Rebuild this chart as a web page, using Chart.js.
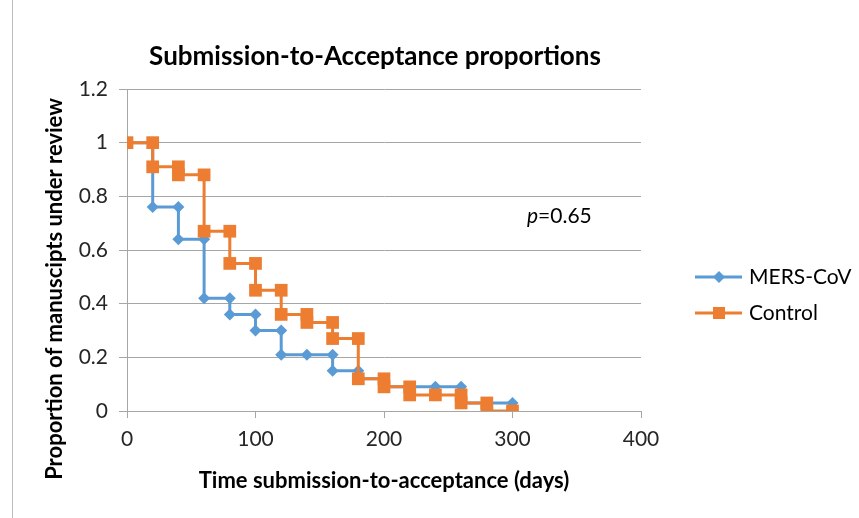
<!DOCTYPE html>
<html>
<head>
<meta charset="utf-8">
<script src="https://cdn.jsdelivr.net/npm/chart.js@4/dist/chart.umd.min.js"></script>
<style>
  html, body { margin: 0; padding: 0; background: #fff; }
  #wrap { width: 859px; height: 518px; position: relative; }
</style>
</head>
<body>
<div id="wrap"><canvas id="chart" width="859" height="518"></canvas></div>
<script>
// step points as plotted (each corner is a marker in the original)
const mersDays = [0, 20, 20, 40, 40, 60, 60, 80, 80, 100, 100, 120, 120, 140, 160, 160, 180, 180, 200, 200, 220, 240, 260, 260, 280, 300];
const mersProp = [1, 1, 0.76, 0.76, 0.64, 0.64, 0.42, 0.42, 0.36, 0.36, 0.30, 0.30, 0.21, 0.21, 0.21, 0.15, 0.15, 0.12, 0.12, 0.09, 0.09, 0.09, 0.09, 0.03, 0.03, 0.03];

const controlDays = [0, 20, 20, 40, 40, 60, 60, 80, 80, 100, 100, 120, 120, 140, 140, 160, 160, 180, 180, 200, 200, 220, 220, 240, 260, 260, 280, 280, 300];
const controlProp = [1, 1, 0.91, 0.91, 0.88, 0.88, 0.67, 0.67, 0.55, 0.55, 0.45, 0.45, 0.36, 0.36, 0.33, 0.33, 0.27, 0.27, 0.12, 0.12, 0.09, 0.09, 0.06, 0.06, 0.06, 0.03, 0.03, 0, 0];

const seriesNames = ["MERS-CoV", "Control"];
const xTicks = [0, 100, 200, 300, 400];
const yTicks = [0, 0.2, 0.4, 0.6, 0.8, 1, 1.2];
const yTickLabels = ["0", "0.2", "0.4", "0.6", "0.8", "1", "1.2"];

const BLUE = "#5B9BD5";
const ORANGE = "#ED7D31";
const FONT = "Lato, 'Open Sans', sans-serif";

const toPoints = (xs, ys) => xs.map((x, i) => ({ x: x, y: ys[i] }));

// title, axis titles, p-value, legend and frame line
const decor = {
  id: "decor",
  afterDraw(chart) {
    const ctx = chart.ctx;
    ctx.save();
    ctx.fillStyle = "#000";
    ctx.textBaseline = "middle";

    ctx.font = "bold 26px " + FONT;
    ctx.textAlign = "center";
    ctx.fillText("Submission-to-Acceptance proportions", 375, 57);

    ctx.font = "bold 22px " + FONT;
    ctx.fillText("Time submission-to-acceptance (days)", 384, 481);

    ctx.save();
    ctx.translate(55, 289);
    ctx.rotate(-Math.PI / 2);
    ctx.fillText("Proportion of manuscipts under review", 0, 0);
    ctx.restore();

    ctx.textAlign = "left";
    ctx.font = "italic 21px " + FONT;
    ctx.fillText("p", 527, 216);
    const pw = ctx.measureText("p").width;
    ctx.font = "21px " + FONT;
    ctx.fillText("=0.65", 527 + pw, 216);

    // legend
    const rows = [
      { name: seriesNames[0], color: BLUE, y: 277, shape: "diamond" },
      { name: seriesNames[1], color: ORANGE, y: 313, shape: "square" }
    ];
    rows.forEach(r => {
      ctx.strokeStyle = r.color;
      ctx.lineWidth = 3;
      ctx.beginPath();
      ctx.moveTo(695, r.y);
      ctx.lineTo(742, r.y);
      ctx.stroke();
      ctx.fillStyle = r.color;
      ctx.beginPath();
      if (r.shape === "diamond") {
        ctx.moveTo(719, r.y - 6);
        ctx.lineTo(725, r.y);
        ctx.lineTo(719, r.y + 6);
        ctx.lineTo(713, r.y);
        ctx.closePath();
      } else {
        ctx.rect(713, r.y - 6, 12, 12);
      }
      ctx.fill();
      ctx.fillStyle = "#000";
      ctx.font = "21px " + FONT;
      ctx.fillText(r.name, 749, r.y);
    });

    ctx.strokeStyle = "#BFBFBF";
    ctx.lineWidth = 1;
    ctx.beginPath();
    ctx.moveTo(12.5, 0);
    ctx.lineTo(12.5, 518);
    ctx.stroke();
    ctx.restore();
  }
};

const bg = {
  id: "bg",
  beforeDraw(chart) {
    const ctx = chart.ctx;
    ctx.save();
    ctx.fillStyle = "#fff";
    ctx.fillRect(0, 0, chart.width, chart.height);
    ctx.restore();
  }
};

new Chart(document.getElementById("chart"), {
  type: "scatter",
  data: {
    datasets: [
      {
        label: seriesNames[0],
        data: toPoints(mersDays, mersProp),
        showLine: true,
        borderColor: BLUE,
        backgroundColor: BLUE,
        borderWidth: 3,
        pointStyle: "rectRot",
        pointRadius: 6,
        pointBorderWidth: 0,
        order: 1
      },
      {
        label: seriesNames[1],
        data: toPoints(controlDays, controlProp),
        showLine: true,
        borderColor: ORANGE,
        backgroundColor: ORANGE,
        borderWidth: 3,
        pointStyle: "rect",
        pointRadius: 9,
        pointBorderWidth: 0,
        order: 0
      }
    ]
  },
  options: {
    responsive: false,
    animation: false,
    layout: { padding: { left: 0, top: 89, right: 218, bottom: 0 } },
    plugins: {
      legend: { display: false },
      title: { display: false },
      tooltip: { enabled: false }
    },
    scales: {
      x: {
        type: "linear",
        min: 0,
        max: 400,
        afterFit: s => { s.height = 107; },
        afterBuildTicks: s => { s.ticks = xTicks.map(v => ({ value: v })); },
        grid: { drawOnChartArea: false, drawTicks: true, tickLength: 7, color: "#A6A6A6" },
        border: { color: "#A6A6A6" },
        ticks: { color: "#262626", padding: 9, font: { family: FONT, size: 21 } }
      },
      y: {
        min: 0,
        max: 1.2,
        afterFit: s => { s.width = 127; },
        afterBuildTicks: s => { s.ticks = yTicks.map(v => ({ value: v })); },
        grid: { color: "#A6A6A6", tickLength: 8 },
        border: { color: "#A6A6A6" },
        ticks: {
          color: "#262626",
          padding: 11,
          font: { family: FONT, size: 21 },
          callback: (v, i) => yTickLabels[i]
        }
      }
    }
  },
  plugins: [bg, decor]
});
</script>
</body>
</html>
